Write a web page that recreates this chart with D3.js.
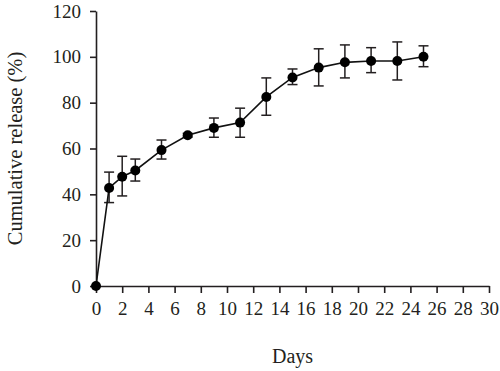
<!DOCTYPE html>
<html>
<head>
<meta charset="utf-8">
<script src="https://cdn.jsdelivr.net/npm/d3@7"></script>
<style>
  body { margin: 0; background: #fff; }
  svg text { font-family: "Liberation Serif", "DejaVu Serif", serif; fill: #231f20; }
</style>
</head>
<body>
<div id="chart-area"></div>
<script>
// release data (mean with upper / lower error bars)
const days = [0, 1, 2, 3, 5, 7, 9, 11, 13, 15, 17, 19, 21, 23, 25];
const release = [0, 42.8, 47.7, 50.4, 59.3, 65.8, 69, 71.3, 82.5, 91, 95.3, 97.6, 98.2, 98.2, 100];
const errHigh = [0, 49.7, 56.6, 55.4, 63.7, 66.6, 73.3, 77.6, 90.8, 94.7, 103.5, 105.2, 104, 106.5, 104.8];
const errLow = [0, 36.4, 39.3, 45.8, 55.4, 65, 64.9, 64.9, 74.5, 87.9, 87.3, 90.8, 93.1, 89.9, 95.7];
const xTicks = d3.range(0, 31, 2);
const yTicks = [0, 20, 40, 60, 80, 100, 120];

const data = days.map((d, i) => ({ day: d, value: release[i], hi: errHigh[i], lo: errLow[i] }));

var margin = { top: 11, right: 11, bottom: 85, left: 96 };
var width = 500 - margin.left - margin.right,
  height = 371 - margin.top - margin.bottom;

let svg = d3.select("#chart-area").append("svg")
  .attr("width", 500)
  .attr("height", 371);

let g = svg.append("g")
  .attr("transform", `translate(${margin.left}, ${margin.top})`);

let x = d3.scaleLinear().domain([0, 30]).range([0, width]);
let y = d3.scaleLinear().domain([0, 120]).range([height, 0]);

let xAxis = d3.axisBottom(x).tickValues(xTicks).tickSize(7).tickPadding(9).tickSizeOuter(0);
let yAxis = d3.axisLeft(y).tickValues(yTicks).tickSize(6).tickPadding(9).tickSizeOuter(0);

let gx = g.append("g")
  .attr("transform", `translate(0, ${height})`)
  .call(xAxis);
let gy = g.append("g").call(yAxis);

[gx, gy].forEach(a => {
  a.selectAll("path, line").attr("stroke", "#231f20").attr("stroke-width", 1.6);
  a.selectAll("text").style("font-size", "19px").attr("fill", "#231f20");
});

// axis titles
g.append("text")
  .attr("x", width / 2)
  .attr("y", height + 77)
  .attr("text-anchor", "middle")
  .style("font-size", "20px")
  .text("Days");

g.append("text")
  .attr("transform", `translate(-74, ${height / 2}) rotate(-90)`)
  .attr("text-anchor", "middle")
  .style("font-size", "20.5px")
  .text("Cumulative release (%)");

// error bars
let err = g.append("g").attr("stroke", "#231f20").attr("stroke-width", 1.5);
let capW = 5;
data.filter(d => d.hi > d.lo).forEach(d => {
  err.append("line")
    .attr("x1", x(d.day)).attr("x2", x(d.day))
    .attr("y1", y(d.hi)).attr("y2", y(d.lo));
  err.append("line")
    .attr("x1", x(d.day) - capW).attr("x2", x(d.day) + capW)
    .attr("y1", y(d.hi)).attr("y2", y(d.hi));
  err.append("line")
    .attr("x1", x(d.day) - capW).attr("x2", x(d.day) + capW)
    .attr("y1", y(d.lo)).attr("y2", y(d.lo));
});

// line
let line = d3.line().x(d => x(d.day)).y(d => y(d.value));
g.append("path")
  .datum(data)
  .attr("fill", "none")
  .attr("stroke", "#111")
  .attr("stroke-width", 1.6)
  .attr("d", line);

// markers
g.selectAll("circle.pt")
  .data(data)
  .enter()
  .append("circle")
  .attr("class", "pt")
  .attr("cx", d => x(d.day))
  .attr("cy", d => y(d.value))
  .attr("r", 5)
  .attr("fill", "#000");
</script>
</body>
</html>
